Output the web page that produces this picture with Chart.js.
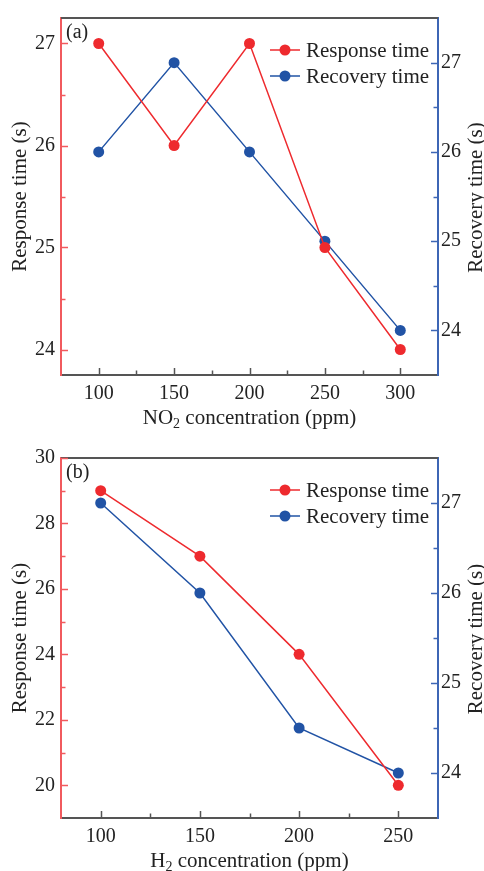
<!DOCTYPE html>
<html>
<head>
<meta charset="utf-8">
<script src="https://cdn.jsdelivr.net/npm/chart.js@4/dist/chart.umd.min.js"></script>
<style>
  html, body { margin: 0; padding: 0; background: #ffffff; }
  #wrap { position: relative; width: 484px; height: 871px; overflow: hidden; }
  canvas { position: absolute; left: 0; }
</style>
</head>
<body>
<div id="wrap">
  <canvas id="chartNO2" width="484" height="430" style="top:0px"></canvas>
  <canvas id="chartH2" width="484" height="441" style="top:430px"></canvas>
</div>
<script>
// ---- panel (a): NO2 ----
const no2Conc = [100, 150, 200, 250, 300];
const no2Response = [27, 26, 27, 25, 24];
const no2Recovery = [26, 27, 26, 25, 24];
const no2XMajor = [100, 150, 200, 250, 300];
const no2XMinor = [125, 175, 225, 275];
const no2RespMajor = [24, 25, 26, 27];
const no2RespMinor = [24.5, 25.5, 26.5];
const no2RecMajor = [24, 25, 26, 27];
const no2RecMinor = [24.5, 25.5, 26.5];

// ---- panel (b): H2 ----
const h2Conc = [100, 150, 200, 250];
const h2Response = [29, 27, 24, 20];
const h2Recovery = [27, 26, 24.5, 24];
const h2XMajor = [100, 150, 200, 250];
const h2XMinor = [125, 175, 225];
const h2RespMajor = [20, 22, 24, 26, 28, 30];
const h2RespMinor = [21, 23, 25, 27, 29];
const h2RecMajor = [24, 25, 26, 27];
const h2RecMinor = [24.5, 25.5, 26.5];

const seriesNames = ['Response time', 'Recovery time'];

const RED = '#ee2a2e';
const BLUE = '#2153a5';
const RED_AXIS = '#f15a5e';
const BLUE_AXIS = '#3d66b5';
const FRAME = '#555555';
const TEXT = '#222222';
const FONT = "'Liberation Serif', 'Times New Roman', serif";

function tickMarks(ctx, scale, values, len, color, side, area) {
  ctx.save();
  ctx.strokeStyle = color;
  ctx.lineWidth = 1.5;
  values.forEach(v => {
    const p = Math.round(scale.getPixelForValue(v)) + 0.5;
    ctx.beginPath();
    if (side === 'bottom') { ctx.moveTo(p, area.bottom); ctx.lineTo(p, area.bottom - len); }
    else if (side === 'left') { ctx.moveTo(area.left, p); ctx.lineTo(area.left + len, p); }
    else { ctx.moveTo(area.right, p); ctx.lineTo(area.right - len, p); }
    ctx.stroke();
  });
  ctx.restore();
}

const decorPlugin = {
  id: 'decor',
  beforeDatasetsDraw(chart, args, o) {
    const ctx = chart.ctx, a = chart.chartArea, s = chart.scales;
    // top frame line
    ctx.save();
    ctx.strokeStyle = FRAME;
    ctx.lineWidth = 2;
    ctx.beginPath();
    ctx.moveTo(a.left, a.top);
    ctx.lineTo(a.right, a.top);
    ctx.stroke();
    ctx.restore();
    tickMarks(ctx, s.x, o.xMajor, 7, FRAME, 'bottom', a);
    tickMarks(ctx, s.x, o.xMinor, 4.5, FRAME, 'bottom', a);
    tickMarks(ctx, s.yResp, o.respMajor, 7, RED_AXIS, 'left', a);
    tickMarks(ctx, s.yResp, o.respMinor, 4.5, RED_AXIS, 'left', a);
    tickMarks(ctx, s.yRec, o.recMajor, 7, BLUE_AXIS, 'right', a);
    tickMarks(ctx, s.yRec, o.recMinor, 4.5, BLUE_AXIS, 'right', a);
  },
  afterDraw(chart, args, o) {
    const ctx = chart.ctx, a = chart.chartArea;
    const midY = (a.top + a.bottom) / 2;
    ctx.save();
    ctx.fillStyle = TEXT;

    // panel label
    ctx.font = '20px ' + FONT;
    ctx.textAlign = 'left';
    ctx.textBaseline = 'alphabetic';
    ctx.fillText(o.panel, a.left + 5, a.top + 20);

    // left axis title
    ctx.font = '21px ' + FONT;
    ctx.save();
    ctx.translate(26, midY);
    ctx.rotate(-Math.PI / 2);
    ctx.textAlign = 'center';
    ctx.fillText('Response time (s)', 0, 0);
    ctx.restore();

    // right axis title
    ctx.save();
    ctx.translate(482, midY + 1);
    ctx.rotate(-Math.PI / 2);
    ctx.textAlign = 'center';
    ctx.fillText('Recovery time (s)', 0, 0);
    ctx.restore();

    // x axis title with subscript
    const big = '21px ' + FONT, small = '14px ' + FONT;
    ctx.font = big;
    const w1 = ctx.measureText(o.gas).width;
    const w3 = ctx.measureText(' concentration (ppm)').width;
    ctx.font = small;
    const w2 = ctx.measureText('2').width;
    const total = w1 + w2 + w3;
    let x = (a.left + a.right) / 2 - total / 2;
    const by = a.bottom + 49;
    ctx.textAlign = 'left';
    ctx.font = big;
    ctx.fillText(o.gas, x, by);
    x += w1;
    ctx.font = small;
    ctx.fillText('2', x, by + 4);
    x += w2;
    ctx.font = big;
    ctx.fillText(' concentration (ppm)', x, by);

    // legend
    const colors = [RED, BLUE];
    ctx.font = '21px ' + FONT;
    ctx.textBaseline = 'middle';
    seriesNames.forEach((name, i) => {
      const y = a.top + 32 + 26 * i;
      ctx.strokeStyle = colors[i];
      ctx.lineWidth = 1.5;
      ctx.beginPath();
      ctx.moveTo(a.right - 168, y);
      ctx.lineTo(a.right - 138, y);
      ctx.stroke();
      ctx.fillStyle = colors[i];
      ctx.beginPath();
      ctx.arc(a.right - 153, y, 5.5, 0, Math.PI * 2);
      ctx.fill();
      ctx.fillStyle = TEXT;
      ctx.fillText(name, a.right - 132, y + 1);
    });
    ctx.restore();
  }
};

function makeChart(id, cfg) {
  const pts = (xs, ys) => xs.map((x, i) => ({ x: x, y: ys[i] }));
  const setTicks = list => scale => { scale.ticks = list.map(v => ({ value: v })); };
  const tickFont = { family: FONT, size: 20 };
  return new Chart(document.getElementById(id), {
    type: 'line',
    data: {
      datasets: [
        {
          label: seriesNames[0],
          data: pts(cfg.conc, cfg.response),
          yAxisID: 'yResp',
          borderColor: RED, backgroundColor: RED,
          borderWidth: 1.5, pointRadius: 5.5, pointBorderWidth: 0,
          pointBackgroundColor: RED, tension: 0
        },
        {
          label: seriesNames[1],
          data: pts(cfg.conc, cfg.recovery),
          yAxisID: 'yRec',
          borderColor: BLUE, backgroundColor: BLUE,
          borderWidth: 1.5, pointRadius: 5.5, pointBorderWidth: 0,
          pointBackgroundColor: BLUE, tension: 0
        }
      ]
    },
    options: {
      responsive: false,
      animation: false,
      devicePixelRatio: 1,
      layout: { padding: { top: cfg.padTop, left: 0, right: 0, bottom: 0 } },
      plugins: {
        legend: { display: false },
        tooltip: { enabled: false },
        decor: {
          panel: cfg.panel, gas: cfg.gas,
          xMajor: cfg.xMajor, xMinor: cfg.xMinor,
          respMajor: cfg.respMajor, respMinor: cfg.respMinor,
          recMajor: cfg.recMajor, recMinor: cfg.recMinor
        }
      },
      scales: {
        x: {
          type: 'linear', position: 'bottom',
          min: cfg.xMin, max: cfg.xMax,
          afterBuildTicks: setTicks(cfg.xMajor),
          afterFit: s => { s.height = cfg.xHeight; },
          grid: { display: false, drawTicks: false },
          border: { display: true, color: FRAME, width: 2 },
          ticks: { font: tickFont, color: TEXT, padding: 7, maxRotation: 0, autoSkip: false }
        },
        yResp: {
          type: 'linear', position: 'left',
          min: cfg.respMin, max: cfg.respMax,
          afterBuildTicks: setTicks(cfg.respMajor),
          afterFit: s => { s.width = 61; },
          grid: { display: false, drawTicks: false },
          border: { display: true, color: RED_AXIS, width: 2 },
          ticks: { font: tickFont, color: TEXT, padding: 6, autoSkip: false }
        },
        yRec: {
          type: 'linear', position: 'right',
          min: cfg.recMin, max: cfg.recMax,
          afterBuildTicks: setTicks(cfg.recMajor),
          afterFit: s => { s.width = 46; },
          grid: { display: false, drawTicks: false },
          border: { display: true, color: BLUE_AXIS, width: 2 },
          ticks: { font: tickFont, color: TEXT, padding: 3, autoSkip: false }
        }
      }
    },
    plugins: [decorPlugin]
  });
}

makeChart('chartNO2', {
  panel: '(a)', gas: 'NO',
  conc: no2Conc, response: no2Response, recovery: no2Recovery,
  xMin: 75, xMax: 325, xMajor: no2XMajor, xMinor: no2XMinor,
  respMin: 23.75, respMax: 27.25, respMajor: no2RespMajor, respMinor: no2RespMinor,
  recMin: 23.5, recMax: 27.5, recMajor: no2RecMajor, recMinor: no2RecMinor,
  padTop: 15, xHeight: 55
});

makeChart('chartH2', {
  panel: '(b)', gas: 'H',
  conc: h2Conc, response: h2Response, recovery: h2Recovery,
  xMin: 80, xMax: 270, xMajor: h2XMajor, xMinor: h2XMinor,
  respMin: 19, respMax: 30, respMajor: h2RespMajor, respMinor: h2RespMinor,
  recMin: 23.5, recMax: 27.5, recMajor: h2RecMajor, recMinor: h2RecMinor,
  padTop: 28, xHeight: 53
});
</script>
</body>
</html>
